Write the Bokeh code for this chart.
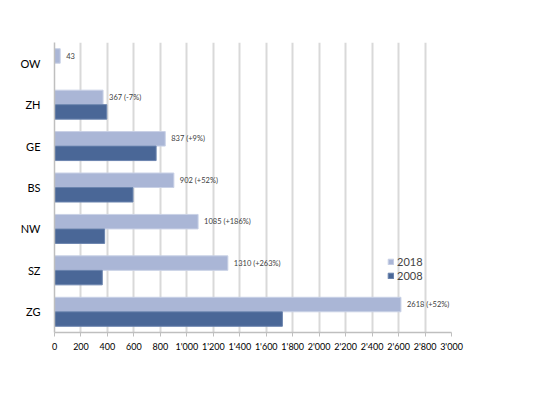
from bokeh.plotting import figure
from bokeh.models import FactorRange, ColumnDataSource, FixedTicker, Legend, LegendItem, LabelSet
from bokeh.transform import dodge
from bokeh.core.properties import value
from bokeh.embed import file_html
from bokeh.resources import INLINE

# data (top to bottom in the chart)
cantons = ["OW", "ZH", "GE", "BS", "NW", "SZ", "ZG"]
v2018 = [43, 367, 837, 902, 1085, 1310, 2618]
v2008 = [0, 395, 768, 593, 379, 361, 1722]
labels2018 = ["43", "367 (-7%)", "837 (+9%)", "902 (+52%)", "1085 (+186%)", "1310 (+263%)", "2618 (+52%)"]
xticks = [0, 200, 400, 600, 800, 1000, 1200, 1400, 1600, 1800, 2000, 2200, 2400, 2600, 2800, 3000]
xtick_labels = ["0", "200", "400", "600", "800", "1'000", "1'200", "1'400", "1'600", "1'800",
                "2'000", "2'200", "2'400", "2'600", "2'800", "3'000"]

c2018 = "#AAB6D6"
c2008 = "#4A6797"
font = "Lato"

src = ColumnDataSource(dict(cat=cantons, v2018=v2018, v2008=v2008, lab=labels2018))

p = figure(width=552, height=388, output_backend="svg", toolbar_location=None,
           y_range=FactorRange(factors=list(reversed(cantons)), range_padding=0),
           x_range=(0, 3000),
           min_border_left=54, min_border_right=101, min_border_top=42, min_border_bottom=56)
p.outline_line_color = None
p.background_fill_color = "white"

r18 = p.hbar(y=dodge("cat", 0.175, range=p.y_range), right="v2018", left=0, height=0.35,
             source=src, fill_color=c2018, line_color="#C9D1E6", line_width=1)
r08 = p.hbar(y=dodge("cat", -0.175, range=p.y_range), right="v2008", left=0, height=0.35,
             source=src, fill_color=c2008, line_color="#6B84AE", line_width=1)

lbl = LabelSet(x="v2018", y=dodge("cat", 0.175, range=p.y_range), text="lab", source=src,
               x_offset=6, y_offset=0, text_font_size=value("7.5px"), text_color=value("#404040"),
               text_baseline=value("middle"), text_font=value(font))
p.add_layout(lbl)

p.xgrid.ticker = FixedTicker(ticks=xticks)
p.xgrid.grid_line_color = "#D9D9D9"
p.xgrid.grid_line_width = 2
p.ygrid.grid_line_color = None

p.xaxis.ticker = FixedTicker(ticks=xticks)
p.xaxis.major_label_overrides = {t: l for t, l in zip(xticks, xtick_labels)}
p.xaxis.major_label_text_font_size = "9px"
p.xaxis.major_label_text_font = font
p.xaxis.major_label_text_color = "#000000"
p.xaxis.axis_line_color = "#BFBFBF"
p.xaxis.axis_line_width = 1.5
p.xaxis.major_tick_line_color = "#BFBFBF"
p.xaxis.major_tick_in = 0
p.xaxis.major_tick_out = 4
p.xaxis.minor_tick_line_color = None
p.xaxis.major_label_standoff = 4

p.yaxis.major_label_text_font_size = "11px"
p.yaxis.major_label_text_font = font
p.yaxis.major_label_text_color = "#000000"
p.yaxis.axis_line_color = "#BFBFBF"
p.yaxis.axis_line_width = 1.5
p.yaxis.major_tick_line_color = None
p.yaxis.minor_tick_line_color = None
p.yaxis.major_label_standoff = 8

legend = Legend(items=[LegendItem(label="2018", renderers=[r18]),
                       LegendItem(label="2008", renderers=[r08])],
                location=(333, 50))
legend.background_fill_alpha = 0
legend.border_line_color = None
legend.glyph_width = 7
legend.glyph_height = 7
legend.label_text_font_size = "11px"
legend.label_text_font = font
legend.label_height = 14
legend.spacing = 0
legend.padding = 0
legend.margin = 0
legend.label_standoff = 3
p.add_layout(legend)

open("out.html", "w").write(file_html(p, INLINE))
